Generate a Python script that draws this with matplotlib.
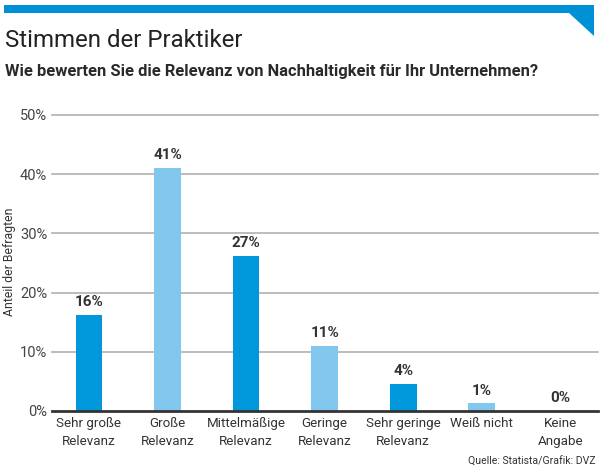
import matplotlib
matplotlib.use("Agg")
import matplotlib.pyplot as plt
from matplotlib import font_manager
from matplotlib.patches import Polygon

categories = ["Sehr große\nRelevanz", "Große\nRelevanz", "Mittelmäßige\nRelevanz",
              "Geringe\nRelevanz", "Sehr geringe\nRelevanz", "Weiß nicht", "Keine\nAngabe"]
values = [16.3, 41.1, 26.2, 11.0, 4.6, 1.3, 0.0]
value_labels = ["16%", "41%", "27%", "11%", "4%", "1%", "0%"]
y_ticks = [0, 10, 20, 30, 40, 50]
y_tick_labels = ["0%", "10%", "20%", "30%", "40%", "50%"]

DARK = "#0098DA"
LIGHT = "#82C7EE"
colors = [DARK, LIGHT, DARK, LIGHT, DARK, LIGHT, DARK]

names = {f.name for f in font_manager.fontManager.ttflist}
FONT = "Liberation Sans Narrow" if "Liberation Sans Narrow" in names else "Roboto"
plt.rcParams["font.family"] = [FONT, "DejaVu Sans"]

W, H = 600, 476
fig = plt.figure(figsize=(W / 100, H / 100), dpi=100)

def px(x, y):
    return x / W, 1 - y / H

# banner
banner = Polygon([px(4, 5), px(594, 5), px(594, 36), px(569, 13), px(4, 13)],
                 closed=True, transform=fig.transFigure, facecolor="#0090D5",
                 edgecolor="none")
fig.patches.append(banner)

fig.canvas.draw()
renderer = fig.canvas.get_renderer()

def fitted_text(x, y, s, target_w, size, **kw):
    t = fig.text(*px(x, y), s, fontsize=size, **kw)
    bb = t.get_window_extent(renderer=renderer)
    t.set_fontsize(size * target_w / bb.width)
    return t

fitted_text(5, 47, "Stimmen der Praktiker", 237, 18, color="#222222", va="baseline")
fitted_text(5, 76, "Wie bewerten Sie die Relevanz von Nachhaltigkeit für Ihr Unternehmen?",
            532, 12, color="#2a2a2a", fontweight="bold", va="baseline")

ax = fig.add_axes([52 / W, (H - 411) / H, (598 - 52) / W, (411 - 115) / H])
x = list(range(len(categories)))
bars = ax.bar(x, values, width=0.34, color=colors, zorder=3)
ax.set_xlim(-0.47, 6.48)
ax.set_ylim(0, 50)
ax.set_yticks(y_ticks)
ax.set_yticklabels(y_tick_labels, fontsize=10.5, color="#444444")
ax.set_xticks(x)
ax.set_xticklabels(categories, fontsize=9.6, color="#333333", linespacing=1.55)
ax.tick_params(axis="both", length=0, pad=3.5)
ax.tick_params(axis="x", pad=4)
for yv in y_ticks[1:]:
    ax.axhline(yv, color="#b0b0b0", lw=1.2, zorder=1, clip_on=False)
for s in ["top", "right", "left"]:
    ax.spines[s].set_visible(False)
ax.spines["bottom"].set_color("#333333")
ax.spines["bottom"].set_linewidth(2)
ax.spines["bottom"].set_zorder(4)

for xi, v, lab in zip(x, values, value_labels):
    ax.annotate(lab, (xi, v), xytext=(0, 4), textcoords="offset points",
                ha="center", va="bottom", fontsize=11, fontweight="bold",
                color="#333333")

fig.text(*px(10, 262), "Anteil der Befragten", rotation=90, fontsize=8.8,
         color="#333333", ha="center", va="center")
fig.text(*px(596, 465), "Quelle: Statista/Grafik: DVZ", fontsize=7.6,
         color="#333333", ha="right", va="baseline")

fig.savefig("out.png", dpi=100)
